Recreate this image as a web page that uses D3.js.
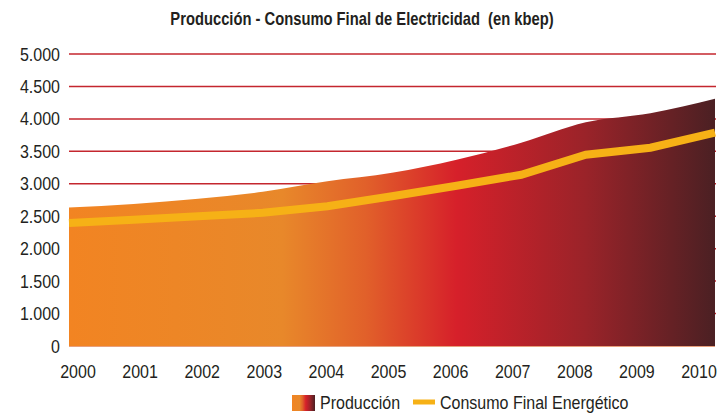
<!DOCTYPE html>
<html>
<head>
<meta charset="utf-8">
<script src="https://cdn.jsdelivr.net/npm/d3@7"></script>
<style>
  body { margin: 0; background: #fff; }
  text { font-family: "Liberation Sans", Arial, sans-serif; fill: #231f20; white-space: pre; }
</style>
</head>
<body>
<div id="chart"></div>
<script>
WIDTH = 720;
HEIGHT = 414;

// data (kbep)
var years = [2000, 2001, 2002, 2003, 2004, 2005, 2006, 2007, 2008, 2009, 2010];
var produccion = [2634, 2690, 2768, 2877, 3039, 3170, 3370, 3633, 3949, 4088, 4312];
var consumo = [2394, 2447, 2500, 2552, 2653, 2807, 2969, 3139, 3447, 3556, 3787];
var yTicks = [500, 1000, 1500, 2000, 2500, 3000, 3500, 4000, 4500, 5000];
var yTickLabels = ["0", "1.000", "1.500", "2.000", "2.500", "3.000", "3.500", "4.000", "4.500", "5.000"];
var legendNames = ["Producción", "Consumo Final Energético"];
var gradStops = [
  { offset: "0%", color: "#f28422" },
  { offset: "33%", color: "#e8882a" },
  { offset: "46%", color: "#e1602a" },
  { offset: "60%", color: "#d6202a" },
  { offset: "80%", color: "#9a2329" },
  { offset: "100%", color: "#4b2023" }
];

var margin = { top: 54, right: 5, bottom: 68, left: 69 };
// no narrow face installed, squeeze the regular one
var NARROW = 0.89;
var NARROW_BOLD = 0.82;

var svg = d3.select("#chart").append("svg")
  .attr("width", WIDTH)
  .attr("height", HEIGHT);

var defs = svg.append("defs");
function addGradient(id) {
  var g = defs.append("linearGradient").attr("id", id)
    .attr("x1", "0%").attr("x2", "100%").attr("y1", "0%").attr("y2", "0%");
  g.selectAll("stop").data(gradStops).enter().append("stop")
    .attr("offset", d => d.offset)
    .attr("stop-color", d => d.color);
}
addGradient("areaGrad");
addGradient("legendGrad");

const x = d3.scaleLinear()
  .domain([2000, 2010])
  .range([margin.left, WIDTH - margin.right]);
const xLabel = d3.scaleLinear()
  .domain([2000, 2010])
  .range([78, 699]);
const y = d3.scaleLinear()
  .domain([500, 5000])
  .range([346, margin.top]);

function narrowText(sel, px, py, k) {
  return sel.attr("transform", (d, i) =>
    "translate(" + px(d, i) + "," + py(d, i) + ") scale(" + (k || NARROW) + ",1)");
}

// title
svg.append("text")
  .datum(0)
  .call(narrowText, () => 362, () => 25, NARROW_BOLD)
  .attr("text-anchor", "middle")
  .style("font-size", "18px")
  .style("font-weight", "bold")
  .text("Producción - Consumo Final de Electricidad  (en kbep)");

// gridlines
svg.append("g").selectAll("line").data(yTicks.slice(1)).enter().append("line")
  .attr("x1", x(2000))
  .attr("x2", x(2010) + 1)
  .attr("y1", d => y(d))
  .attr("y2", d => y(d))
  .attr("stroke", "#c4262e")
  .attr("stroke-width", 1.5);

// y labels
svg.append("g").selectAll("text").data(yTicks).enter().append("text")
  .call(narrowText, () => 60, d => y(d) + 6.5)
  .attr("text-anchor", "end")
  .style("font-size", "18px")
  .text((d, i) => yTickLabels[i]);

// production area
var area = d3.area()
  .x((d, i) => x(years[i]))
  .y0(y(500))
  .y1(d => y(d))
  .curve(d3.curveMonotoneX);

svg.append("path")
  .datum(produccion)
  .attr("d", area)
  .attr("fill", "url(#areaGrad)");

// baseline
svg.append("line")
  .attr("x1", x(2000)).attr("x2", x(2010))
  .attr("y1", y(500) + 0.5).attr("y2", y(500) + 0.5)
  .attr("stroke", "#e8a07c")
  .attr("stroke-width", 1);

// consumption line
var line = d3.line()
  .x((d, i) => x(years[i]))
  .y(d => y(d));

svg.append("path")
  .datum(consumo)
  .attr("d", line)
  .attr("fill", "none")
  .attr("stroke", "#f6b116")
  .attr("stroke-width", 8);

// x labels
svg.append("g").selectAll("text").data(years).enter().append("text")
  .call(narrowText, d => xLabel(d), () => 378)
  .attr("text-anchor", "middle")
  .style("font-size", "18px")
  .text(d => d);

// legend
var legend = svg.append("g");
legend.append("rect")
  .attr("x", 292).attr("y", 395)
  .attr("width", 23).attr("height", 16)
  .attr("fill", "url(#legendGrad)");
legend.append("text")
  .datum(0)
  .call(narrowText, () => 320, () => 409)
  .style("font-size", "18px")
  .text(legendNames[0]);
legend.append("line")
  .attr("x1", 413).attr("x2", 435)
  .attr("y1", 402).attr("y2", 402)
  .attr("stroke", "#f6b116")
  .attr("stroke-width", 5);
legend.append("text")
  .datum(0)
  .call(narrowText, () => 440, () => 409)
  .style("font-size", "18px")
  .text(legendNames[1]);
</script>
</body>
</html>
